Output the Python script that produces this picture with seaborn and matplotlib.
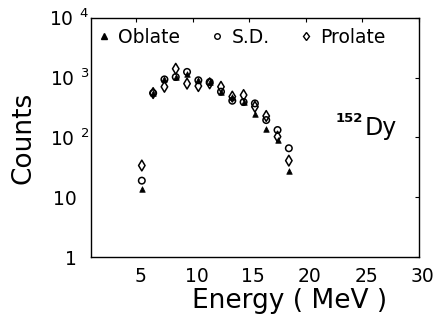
import numpy as np
import pandas as pd
import matplotlib
matplotlib.use("Agg")
import matplotlib.pyplot as plt
import matplotlib.transforms as mtrans
import seaborn as sns
from matplotlib.lines import Line2D

energy = [5.5, 6.5, 7.5, 8.5, 9.5, 10.5, 11.5, 12.5, 13.5, 14.5, 15.5, 16.5, 17.5, 18.5]
oblate = [14, 550, 930, 1020, 1130, 900, 840, 580, 480, 390, 250, 140, 90, 28]
sd = [19, 550, 930, 1020, 1240, 900, 840, 580, 410, 390, 370, 195, 133, 66]
prolate = [34, 550, 700, 1400, 790, 720, 800, 700, 480, 510, 325, 228, 103, 41]

x_ticks = [5, 10, 15, 20, 25, 30]
y_ticks = [1, 10, 100, 1000, 10000]
y_labels = ["1\u2002\u2009", "10\u2002\u2009", "$10^{\\ \\,2}$", "$10^{\\ \\,3}$", "$10^{\\ \\,4}$"]

sns.set_theme(style="white")
plt.rcParams['font.family'] = ['DejaVu Sans']
plt.rcParams['mathtext.default'] = 'regular'
plt.rcParams['text.color'] = 'black'
plt.rcParams['axes.labelcolor'] = 'black'
plt.rcParams['xtick.color'] = 'black'
plt.rcParams['ytick.color'] = 'black'

fig = plt.figure(figsize=(4.35, 3.2), dpi=100)
ax = fig.add_axes([0.209, 0.196, 0.754, 0.749])

df_o = pd.DataFrame({"E": energy, "C": oblate})
df_s = pd.DataFrame({"E": energy, "C": sd})
df_p = pd.DataFrame({"E": energy, "C": prolate})

sns.scatterplot(data=df_s, x="E", y="C", ax=ax, marker="o", s=22,
                facecolor="none", edgecolor="black", linewidth=1.1, zorder=3)
sns.scatterplot(data=df_p, x="E", y="C", ax=ax, marker="d", s=30,
                facecolor="none", edgecolor="black", linewidth=1.1, zorder=3)
sns.scatterplot(data=df_o, x="E", y="C", ax=ax, marker="^", s=16,
                color="black", edgecolor="black", linewidth=0.5, zorder=4)

ax.set_yscale("log")
ax.set_xlim(1, 30)
ax.set_ylim(1, 10000)
ax.set_xticks(x_ticks)
ax.set_xticklabels([str(t) for t in x_ticks], fontsize=13.5, color="black")
ax.set_yticks(y_ticks)
ax.set_yticklabels(y_labels, fontsize=13.5, color="black")
ax.minorticks_off()
ax.tick_params(direction="in", top=True, right=True, length=3, width=0.8,
               colors="black")
ax.tick_params(axis="y", pad=1)
ax.tick_params(axis="x", pad=7)
shift = mtrans.ScaledTranslation(0.04, 0, fig.dpi_scale_trans)
for lab in ax.get_xticklabels():
    lab.set_transform(lab.get_transform() + shift)
for sp in ax.spines.values():
    sp.set_color("black")
    sp.set_linewidth(1.0)

ax.set_xlabel("Energy ( MeV )", fontsize=19, color="black")
ax.xaxis.set_label_coords(0.607, -0.13)
ax.set_ylabel("Counts", fontsize=19, color="black")
ax.yaxis.set_label_coords(-0.165, 0.5)

handles = [
    Line2D([], [], marker="^", ls="none", color="black", markersize=4),
    Line2D([], [], marker="o", ls="none", markerfacecolor="none", markeredgecolor="black",
           markersize=4, markeredgewidth=1.0),
    Line2D([], [], marker="d", ls="none", markerfacecolor="none", markeredgecolor="black",
           markersize=4.5, markeredgewidth=1.0),
]
leg = ax.legend(handles, ["Oblate", "S.D.", "Prolate"], ncol=3, loc="center left",
                bbox_to_anchor=(0.012, 0.919), frameon=False, fontsize=13.5,
                handletextpad=0.26, columnspacing=1.45, handlelength=1.0,
                borderpad=0, borderaxespad=0)
for t in leg.get_texts():
    t.set_color("black")

ax.text(0.835, 0.59, "Dy", transform=ax.transAxes, fontsize=17, ha="left", va="top",
        color="black")
ax.text(0.828, 0.607, "152", transform=ax.transAxes, fontsize=9.5, ha="right", va="top",
        fontweight="bold", color="black")

fig.savefig("out.png", dpi=100)
